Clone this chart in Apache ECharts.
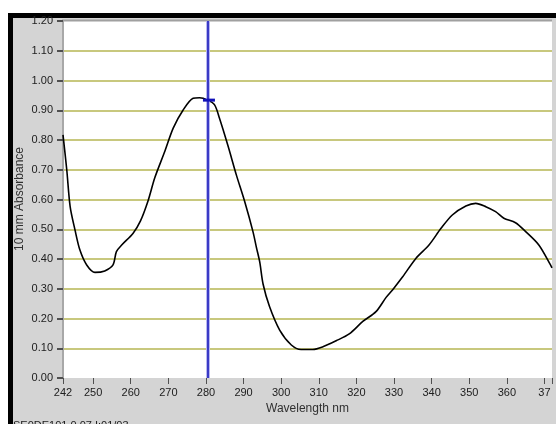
<!DOCTYPE html>
<html>
<head>
<meta charset="utf-8">
<script src="https://cdn.jsdelivr.net/npm/echarts@6/dist/echarts.min.js"></script>
<style>
  html, body { margin: 0; padding: 0; background: #fff; }
  #chart { width: 556px; height: 424px; }
</style>
</head>
<body>
<div id="chart"></div>
<script>
// spectrum
const wavelengths = [242.0, 243.0, 243.9, 245.2, 246.5, 248.3, 250.5, 253.1, 255.3, 256.2, 257.6, 260.6, 262.6, 264.6, 266.4, 269.1, 271.3, 273.9, 276.6, 278.3, 280.5, 282.3, 283.6, 285.8, 288.1, 290.3, 292.5, 293.4, 294.3, 295.2, 296.9, 299.6, 302.7, 305.3, 308.4, 311.1, 314.6, 318.1, 321.7, 325.2, 327.9, 329.6, 332.3, 335.8, 339.3, 342.5, 345.5, 349.1, 351.7, 354.4, 357.0, 359.2, 362.3, 365.0, 368.5, 371.6, 372.0];
const absorbance = [0.817, 0.700, 0.576, 0.497, 0.430, 0.380, 0.355, 0.360, 0.380, 0.425, 0.447, 0.486, 0.528, 0.595, 0.673, 0.763, 0.840, 0.900, 0.940, 0.942, 0.934, 0.918, 0.873, 0.783, 0.682, 0.593, 0.492, 0.440, 0.390, 0.315, 0.240, 0.161, 0.111, 0.096, 0.096, 0.105, 0.125, 0.148, 0.190, 0.223, 0.271, 0.296, 0.340, 0.402, 0.447, 0.503, 0.548, 0.578, 0.587, 0.576, 0.559, 0.537, 0.522, 0.492, 0.447, 0.380, 0.370];

const xTickValues = [242, 250, 260, 270, 280, 290, 300, 310, 320, 330, 340, 350, 360, 370, 372];
const xLabelValues = [242, 250, 260, 270, 280, 290, 300, 310, 320, 330, 340, 350, 360, 370];
const cursorX = 280.6;
const cursorY = 0.934;

const font = "'Liberation Sans', Arial, sans-serif";
const myChart = echarts.init(document.getElementById("chart"));

const options = {
  animation: false,
  backgroundColor: "#d4d4d4",
  grid: {
    left: 63,
    right: 4,
    top: 21,
    bottom: 46,
    show: true,
    backgroundColor: "#ffffff",
    borderWidth: 0,
  },
  xAxis: {
    type: "value",
    min: 242,
    max: 372,
    name: "Wavelength nm",
    nameLocation: "middle",
    nameGap: 22,
    nameTextStyle: { fontFamily: font, fontSize: 12, color: "#303030" },
    axisLine: { show: false },
    axisTick: {
      show: true,
      customValues: xTickValues,
      length: 6,
      lineStyle: { color: "#505050", width: 1 },
    },
    axisLabel: {
      customValues: xLabelValues,
      margin: 9,
      fontFamily: font,
      fontSize: 11,
      color: "#202020",
      // the last label is cut at the frame edge in the reference
      formatter: (v) => (v === 370 ? "37" : String(v)),
    },
    splitLine: { show: false },
  },
  yAxis: {
    type: "value",
    min: 0,
    max: 1.2,
    interval: 0.1,
    axisLine: { show: true, lineStyle: { color: "#a8a8a8", width: 2 } },
    axisTick: { show: true, length: 6, lineStyle: { color: "#505050", width: 2 } },
    axisLabel: {
      margin: 10,
      fontFamily: font,
      fontSize: 11,
      color: "#202020",
      formatter: (v) => v.toFixed(2),
    },
    splitLine: {
      show: true,
      showMinLine: false,
      showMaxLine: false,
      lineStyle: { color: "#c8c87e", width: 2 },
    },
  },
  graphic: [
    { type: "rect", shape: { x: 0, y: 0, width: 556, height: 13 }, style: { fill: "#ffffff" } },
    { type: "rect", shape: { x: 0, y: 0, width: 8, height: 424 }, style: { fill: "#ffffff" } },
    { type: "rect", shape: { x: 8, y: 13, width: 548, height: 5 }, style: { fill: "#000000" } },
    { type: "rect", shape: { x: 8, y: 13, width: 5, height: 411 }, style: { fill: "#000000" } },
    { type: "line", shape: { x1: 62, y1: 20.5, x2: 552, y2: 20.5 }, style: { stroke: "#a0a0a0", lineWidth: 2 } },
    {
      type: "text",
      x: 20,
      y: 199,
      rotation: Math.PI / 2,
      style: {
        text: "10 mm Absorbance",
        font: "12px " + font,
        fill: "#303030",
        align: "center",
        verticalAlign: "middle",
      },
    },
    {
      type: "text",
      left: 13,
      top: 420,
      style: { text: "SE0DE101 0.07 I:01/03", font: "11px " + font, fill: "#202020" },
    },
  ],
  series: [
    {
      type: "line",
      data: wavelengths.map((w, i) => [w, absorbance[i]]),
      showSymbol: false,
      smooth: 0.3,
      lineStyle: { color: "#000000", width: 1.6 },
      markLine: {
        silent: true,
        symbol: "none",
        label: { show: false },
        data: [
          { xAxis: cursorX, lineStyle: { color: "#b8b8f0", width: 4, type: "solid" } },
          { xAxis: cursorX, lineStyle: { color: "#1010b8", width: 1.5, type: "solid" } },
        ],
      },
      markPoint: {
        silent: true,
        symbol: "rect",
        symbolSize: [12, 3],
        label: { show: false },
        itemStyle: { color: "#1010b8" },
        data: [{ coord: [cursorX + 0.2, cursorY] }],
      },
    },
  ],
};

myChart.setOption(options);
</script>
</body>
</html>
